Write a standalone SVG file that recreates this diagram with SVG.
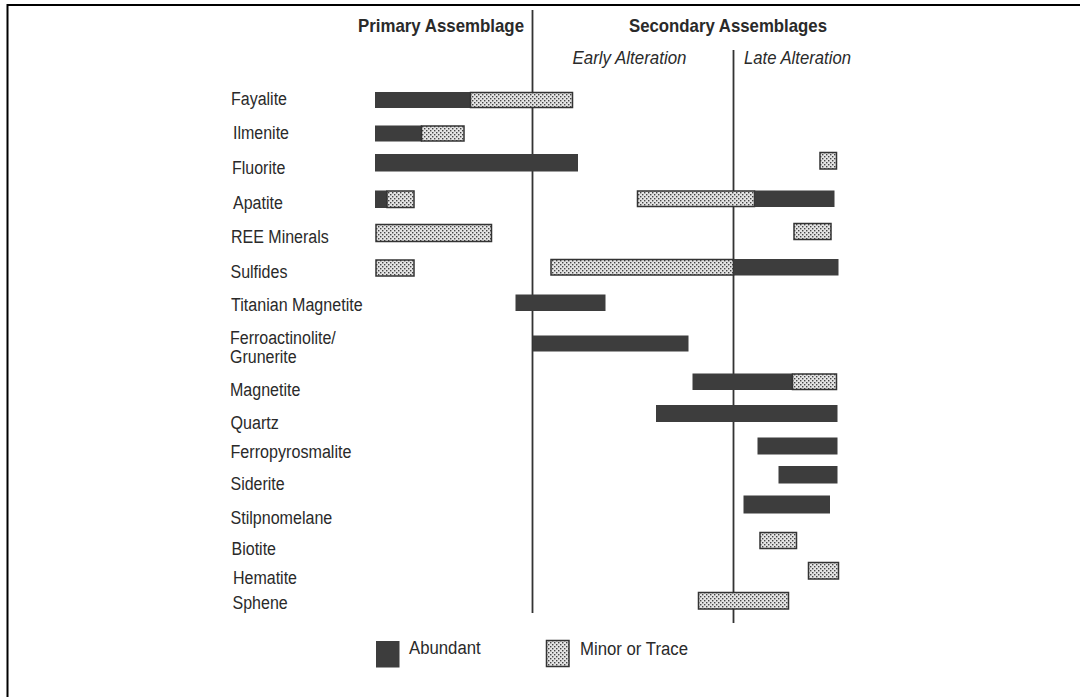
<svg xmlns="http://www.w3.org/2000/svg" width="1080" height="697" viewBox="0 0 1080 697">
<defs>
<pattern id="dots" width="4" height="4" patternUnits="userSpaceOnUse">
<rect width="4" height="4" fill="#e4e4e4"/>
<rect x="0" y="0" width="1.4" height="1.4" fill="#444"/>
<rect x="2" y="2" width="1.4" height="1.4" fill="#444"/>
</pattern>
</defs>
<style>
text{font-family:"Liberation Sans",Arial,sans-serif;fill:#2a2a2a}
.lbl{font-size:18px}
.hd{font-size:18.5px;font-weight:bold}
.it{font-size:17.5px;font-style:italic}
.ab{fill:#3d3d3d}
.mn{fill:url(#dots);stroke:#333;stroke-width:1.5}
.vl{stroke:#333;stroke-width:1.8}
</style>
<rect width="1080" height="697" fill="#fff"/>
<path d="M7.5 697 V5 H1080" fill="none" stroke="#000" stroke-width="2"/>
<g id="headers">
<text class="hd" x="358" y="31.5" textLength="166" lengthAdjust="spacingAndGlyphs">Primary Assemblage</text>
<text class="hd" x="629" y="31.5" textLength="198" lengthAdjust="spacingAndGlyphs">Secondary Assemblages</text>
<text class="it" x="572.5" y="64" textLength="114" lengthAdjust="spacingAndGlyphs">Early Alteration</text>
<text class="it" x="744" y="64" textLength="107" lengthAdjust="spacingAndGlyphs">Late Alteration</text>
</g>
<g id="dividers">
<line class="vl" x1="532.5" y1="10" x2="532.5" y2="613"/>
<line class="vl" x1="733.5" y1="50" x2="733.5" y2="623"/>
</g>
<g id="fayalite"><text class="lbl" x="231" y="105" textLength="56" lengthAdjust="spacingAndGlyphs">Fayalite</text>
<rect class="ab" x="375" y="92" width="96" height="16"/><rect class="mn" x="470.5" y="92.5" width="102" height="15"/></g>
<g id="ilmenite"><text class="lbl" x="233" y="138.5" textLength="56" lengthAdjust="spacingAndGlyphs">Ilmenite</text>
<rect class="ab" x="375" y="125.5" width="47" height="16"/><rect class="mn" x="421.5" y="126" width="42.5" height="15"/></g>
<g id="fluorite"><text class="lbl" x="232" y="173.5" textLength="53.3" lengthAdjust="spacingAndGlyphs">Fluorite</text>
<rect class="ab" x="375" y="154" width="203" height="17.5"/><rect class="mn" x="820" y="152.5" width="16.5" height="16.5"/></g>
<g id="apatite"><text class="lbl" x="233" y="208.5" textLength="49.8" lengthAdjust="spacingAndGlyphs">Apatite</text>
<rect class="ab" x="375" y="190.5" width="12" height="17.5"/><rect class="mn" x="387" y="191" width="27" height="16.5"/>
<rect class="mn" x="637.5" y="191" width="117" height="15.5"/><rect class="ab" x="754.5" y="190.5" width="80" height="16.5"/></g>
<g id="ree"><text class="lbl" x="231" y="242.5" textLength="97.8" lengthAdjust="spacingAndGlyphs">REE Minerals</text>
<rect class="mn" x="376" y="224.5" width="115.5" height="17"/><rect class="mn" x="794" y="223.5" width="37" height="16"/></g>
<g id="sulfides"><text class="lbl" x="230.5" y="277.5" textLength="56.9" lengthAdjust="spacingAndGlyphs">Sulfides</text>
<rect class="mn" x="376" y="260" width="38" height="16"/>
<rect class="mn" x="551" y="259.5" width="182.5" height="15.5"/><rect class="ab" x="733.5" y="259" width="105" height="16.5"/></g>
<g id="titanian"><text class="lbl" x="231" y="310.5" textLength="131.6" lengthAdjust="spacingAndGlyphs">Titanian Magnetite</text>
<rect class="ab" x="515.5" y="294.5" width="90" height="16.5"/></g>
<g id="ferroactinolite"><text class="lbl" x="230" y="343.5" textLength="105.8" lengthAdjust="spacingAndGlyphs">Ferroactinolite/</text><text class="lbl" x="230" y="362.5" textLength="66.7" lengthAdjust="spacingAndGlyphs">Grunerite</text>
<rect class="ab" x="533" y="335.5" width="155.5" height="16"/></g>
<g id="magnetite"><text class="lbl" x="230" y="395.5" textLength="70.3" lengthAdjust="spacingAndGlyphs">Magnetite</text>
<rect class="ab" x="692.5" y="373.5" width="100" height="16.5"/><rect class="mn" x="792.5" y="374" width="44" height="15.5"/></g>
<g id="quartz"><text class="lbl" x="230.5" y="429" textLength="48.3" lengthAdjust="spacingAndGlyphs">Quartz</text>
<rect class="ab" x="656" y="405" width="181.5" height="17"/></g>
<g id="ferropyrosmalite"><text class="lbl" x="230.5" y="457.5" textLength="121" lengthAdjust="spacingAndGlyphs">Ferropyrosmalite</text>
<rect class="ab" x="757.5" y="437.5" width="80" height="17"/></g>
<g id="siderite"><text class="lbl" x="230.5" y="490" textLength="54.2" lengthAdjust="spacingAndGlyphs">Siderite</text>
<rect class="ab" x="778.5" y="466" width="59" height="17.5"/></g>
<g id="stilpnomelane"><text class="lbl" x="230.5" y="523.5" textLength="101.8" lengthAdjust="spacingAndGlyphs">Stilpnomelane</text>
<rect class="ab" x="743.5" y="495.5" width="86.5" height="18"/></g>
<g id="biotite"><text class="lbl" x="231.5" y="555" textLength="44.5" lengthAdjust="spacingAndGlyphs">Biotite</text>
<rect class="mn" x="760" y="532.5" width="36.5" height="16"/></g>
<g id="hematite"><text class="lbl" x="233" y="584" textLength="64" lengthAdjust="spacingAndGlyphs">Hematite</text>
<rect class="mn" x="808.5" y="562.5" width="30" height="16.5"/></g>
<g id="sphene"><text class="lbl" x="232.5" y="608.5" textLength="55.2" lengthAdjust="spacingAndGlyphs">Sphene</text>
<rect class="mn" x="698.5" y="592.5" width="90" height="16.5"/></g>
<g id="legend">
<rect class="ab" x="376" y="641" width="23.5" height="26.5"/>
<text class="lbl" x="409" y="654" textLength="71.7" lengthAdjust="spacingAndGlyphs">Abundant</text>
<rect class="mn" x="546.5" y="640.5" width="22.5" height="26"/>
<text class="lbl" x="580" y="654.5" textLength="108" lengthAdjust="spacingAndGlyphs">Minor or Trace</text>
</g>
</svg>
